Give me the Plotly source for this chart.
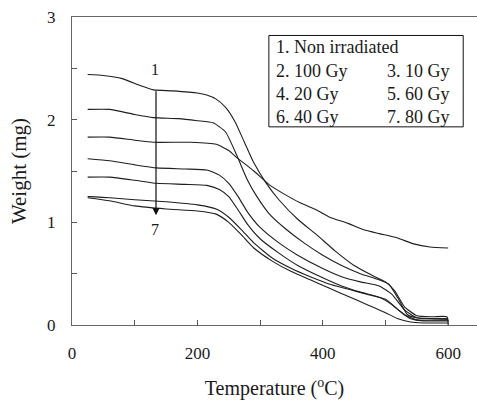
import plotly.graph_objects as go

# ---- data (Temperature in °C, Weight in mg) ----
names = ["1. Non irradiated", "2. 100 Gy", "3. 10 Gy", "4. 20 Gy", "5. 60 Gy", "6. 40 Gy", "7. 80 Gy"]

t1 = [25, 50, 80, 110, 130, 160, 200, 215, 230, 245, 260, 275, 290, 310, 330, 360, 390, 420, 450, 480, 500, 515, 530, 550, 575, 598, 600]
w1 = [2.44, 2.43, 2.40, 2.33, 2.29, 2.28, 2.26, 2.24, 2.20, 2.12, 1.98, 1.78, 1.58, 1.38, 1.22, 1.03, 0.88, 0.72, 0.58, 0.48, 0.42, 0.33, 0.18, 0.09, 0.08, 0.08, 0.0]

t2 = [25, 60, 100, 130, 170, 200, 225, 245, 263, 280, 295, 315, 340, 370, 400, 430, 460, 490, 505, 520, 535, 550, 600]
w2 = [2.10, 2.10, 2.05, 2.02, 2.01, 1.99, 1.97, 1.88, 1.65, 1.41, 1.25, 1.08, 0.94, 0.80, 0.68, 0.58, 0.50, 0.44, 0.40, 0.26, 0.10, 0.07, 0.06]

t3 = [25, 60, 100, 130, 190, 230, 250, 263, 290, 316, 340, 364, 390, 411, 440, 464, 490, 518, 545, 571, 600]
w3 = [1.83, 1.83, 1.80, 1.78, 1.78, 1.76, 1.70, 1.63, 1.50, 1.36, 1.27, 1.19, 1.12, 1.05, 0.99, 0.93, 0.89, 0.85, 0.79, 0.76, 0.75]

t4 = [25, 60, 100, 135, 180, 215, 235, 250, 265, 280, 300, 330, 360, 400, 430, 460, 490, 510, 530, 550, 600]
w4 = [1.62, 1.60, 1.56, 1.53, 1.52, 1.51, 1.46, 1.38, 1.25, 1.10, 0.95, 0.80, 0.68, 0.55, 0.47, 0.42, 0.38, 0.30, 0.15, 0.07, 0.06]

t5 = [25, 60, 100, 135, 180, 215, 235, 250, 265, 280, 300, 330, 360, 400, 430, 460, 490, 510, 530, 550, 600]
w5 = [1.44, 1.44, 1.41, 1.38, 1.37, 1.36, 1.32, 1.25, 1.12, 0.98, 0.84, 0.70, 0.58, 0.46, 0.38, 0.32, 0.27, 0.20, 0.10, 0.05, 0.05]

t6 = [25, 60, 100, 150, 200, 230, 250, 270, 290, 320, 350, 380, 410, 440, 470, 500, 520, 540, 560, 600]
w6 = [1.25, 1.24, 1.22, 1.20, 1.17, 1.13, 1.05, 0.93, 0.80, 0.65, 0.55, 0.47, 0.40, 0.35, 0.30, 0.25, 0.15, 0.06, 0.04, 0.04]

t7 = [25, 60, 100, 150, 200, 230, 250, 270, 290, 320, 350, 380, 410, 440, 470, 500, 520, 540, 560, 600]
w7 = [1.24, 1.21, 1.16, 1.13, 1.11, 1.08, 1.00, 0.88, 0.75, 0.62, 0.52, 0.44, 0.36, 0.28, 0.20, 0.12, 0.06, 0.03, 0.02, 0.02]

series_t = [t1, t2, t3, t4, t5, t6, t7]
series_w = [w1, w2, w3, w4, w5, w6, w7]

x_tickvals = [0, 100, 200, 300, 400, 500, 600]
x_ticktext = ["0", "", "200", "", "400", "", "600"]
y_tickvals = [0, 0.5, 1, 1.5, 2, 2.5, 3]
y_ticktext = ["0", "", "1", "", "2", "", "3"]

FONT = "Liberation Serif, Times New Roman, serif"
INK = "#1a1a1a"

fig = go.Figure()
for n, t, w in zip(names, series_t, series_w):
    fig.add_trace(go.Scatter(x=t, y=w, mode="lines", name=n,
                             line=dict(color="#1e1e1e", width=1.1, shape="spline", smoothing=0.5),
                             showlegend=False))

fig.update_layout(
    width=477, height=400,
    margin=dict(l=72, r=0, t=17, b=75),
    paper_bgcolor="white", plot_bgcolor="white",
    font=dict(family=FONT, color=INK),
    xaxis=dict(range=[0, 646], tickvals=x_tickvals, ticktext=x_ticktext,
               ticks="inside", ticklen=5, tickcolor="#555", tickwidth=1,
               showline=True, linecolor="#666", linewidth=1.3, mirror=True,
               showgrid=False, zeroline=False, tickfont=dict(size=17, family=FONT, color=INK),
               ticklabelstandoff=12,
               title=dict(text="Temperature (<sup>o</sup>C)", font=dict(size=20, family=FONT, color=INK), standoff=22)),
    yaxis=dict(range=[0, 3], tickvals=y_tickvals, ticktext=y_ticktext,
               ticks="inside", ticklen=5, tickcolor="#555", tickwidth=1,
               showline=True, linecolor="#666", linewidth=1.3, mirror=False,
               showgrid=False, zeroline=False, tickfont=dict(size=17, family=FONT, color=INK),
               ticklabelstandoff=12,
               title=dict(text="Weight (mg)", font=dict(size=21, family=FONT, color=INK), standoff=14)),
)

# legend box drawn as a rectangle with text annotations
fig.add_shape(type="rect", xref="x", yref="y", x0=314, x1=624, y0=1.93, y1=2.82,
              line=dict(color="#111", width=1), fillcolor="white", layer="above")
legend_pos = [(322, 2.71), (322, 2.47), (500, 2.47), (322, 2.25), (500, 2.25), (322, 2.03), (500, 2.03)]
for n, (lx, ly) in zip(names, legend_pos):
    fig.add_annotation(x=lx, y=ly, xref="x", yref="y", text=n, showarrow=False,
                       xanchor="left", yanchor="middle", font=dict(size=18, family=FONT, color=INK))

# arrow from curve 1 to curve 7
fig.add_annotation(x=134, y=1.07, ax=134, ay=2.36, xref="x", yref="y", axref="x", ayref="y",
                   text=" ", showarrow=True, arrowhead=2, arrowsize=1.2, arrowwidth=1.2, arrowcolor="#111")
fig.add_annotation(x=132, y=2.49, xref="x", yref="y", text="1", showarrow=False,
                   font=dict(size=16, family=FONT, color=INK))
fig.add_annotation(x=132, y=0.93, xref="x", yref="y", text="7", showarrow=False,
                   font=dict(size=16, family=FONT, color=INK))

fig.write_html("out.html")
